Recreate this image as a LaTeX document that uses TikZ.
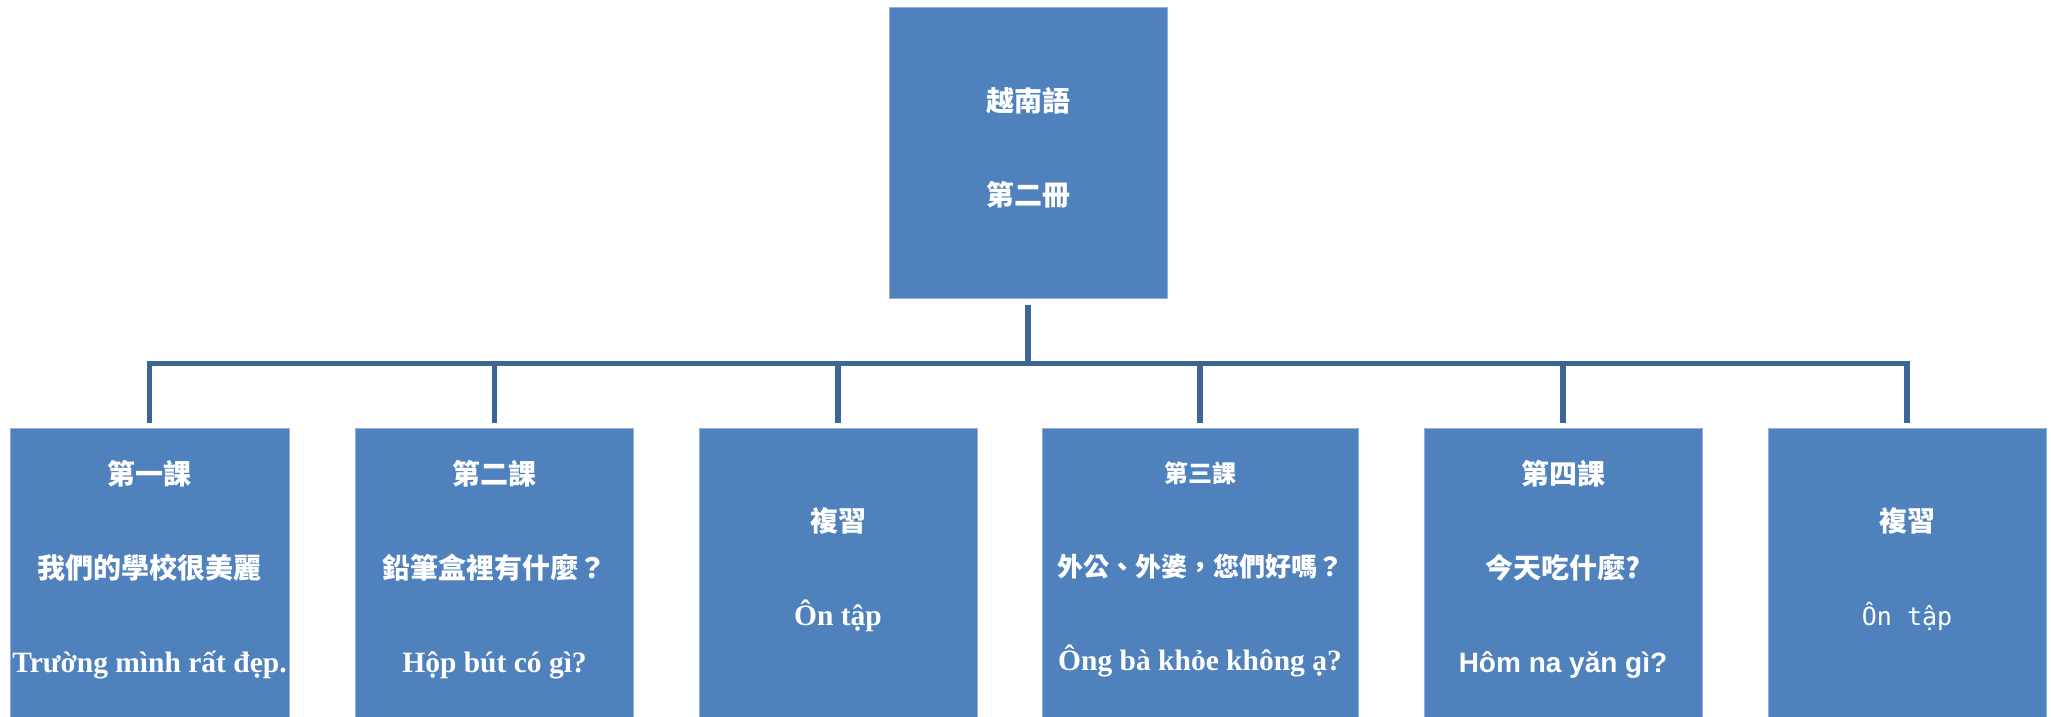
\documentclass[tikz,border=0pt]{standalone}
\usepackage{fontspec}
\setmainfont{Liberation Serif}
\newfontfamily\cjk{Noto Sans CJK TC}
\newfontfamily\arialfont{Liberation Sans}
\newfontfamily\narrowfont{DejaVu Sans Mono}
\newcommand\viet[1]{{\fontsize{29.5}{94}\selectfont #1}}
\definecolor{boxblue}{HTML}{4F81BD}
\definecolor{edgeblue}{HTML}{93B1DA}
\definecolor{linkblue}{HTML}{3C6596}
\tikzset{
  unit/.style={rectangle, fill=boxblue, draw=edgeblue, line width=1pt,
    anchor=north, minimum width=278, minimum height=292, inner sep=0pt,
    text depth=16pt, text=white, align=center,
    font=\bfseries\fontsize{28}{94}\selectfont},
  link/.style={draw=linkblue, line width=5.5pt, line join=miter},
}
\begin{document}
\begin{tikzpicture}[x=1pt,y=-1pt]
  \useasboundingbox (0,0) rectangle (2051,716);
  \draw
    (1028,7) node[unit, minimum height=291, text depth=14pt] (book){{\cjk 越南語}\\{\cjk 第二冊}}
    (149.5,428) node[unit, minimum width=279] (l1){{\cjk 第一課}\\{\cjk 我們的學校很美麗}\\\viet{Trường mình rất đẹp.}}
    (494.5,428) node[unit] (l2){{\cjk 第二課}\\{\cjk 鉛筆盒裡有什麼？}\\\viet{Hộp bút có gì?}}
    (838,428) node[unit] (r1){{\cjk 複習}\\\viet{Ôn tập}}
    (1200,428) node[unit, minimum width=316] (l3){{\cjk\fontsize{24}{94}\selectfont 第三課}\\{\cjk\fontsize{26}{94}\selectfont 外公、外婆，您們好嗎？}\\\viet{Ông bà khỏe không ạ?}}
    (1563,428) node[unit] (l4){{\cjk 第四課}\\{\cjk 今天吃什麼?}\\{\arialfont Hôm na yăn gì?}}
    (1907,428) node[unit] (r2){{\cjk 複習}\\{\narrowfont\mdseries\fontsize{25}{94}\selectfont Ôn tập}};
  \coordinate (bar) at (1028,363.5);
  \begin{scope}[link]
    \draw[shorten <=6pt] (book.south) to (book.south |- bar);
    \draw[shorten <=5pt, shorten >=5pt] (l1.north) -- (l1.north |- bar) -- (r2.north |- bar) -- (r2.north);
    \draw[shorten >=5pt] (l2.north |- bar) to (l2.north);
    \draw[shorten >=5pt] (r1.north |- bar) to (r1.north);
    \draw[shorten >=5pt] (l3.north |- bar) to (l3.north);
    \draw[shorten >=5pt] (l4.north |- bar) to (l4.north);
  \end{scope}
\end{tikzpicture}
\end{document}
